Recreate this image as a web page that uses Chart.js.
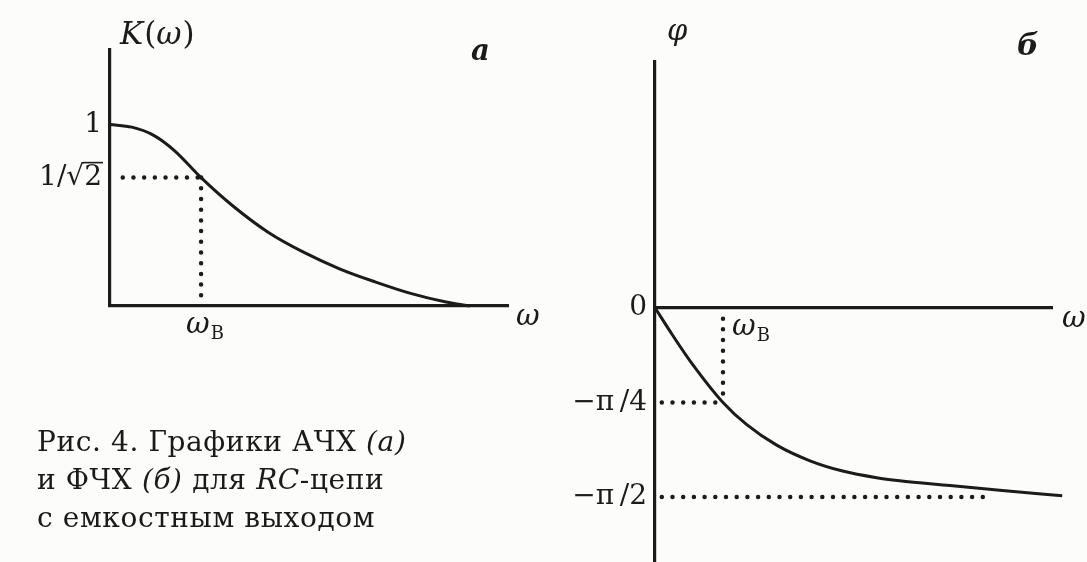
<!DOCTYPE html>
<html lang="ru">
<head>
<meta charset="utf-8">
<title>АЧХ и ФЧХ RC-цепи</title>
<script src="https://cdn.jsdelivr.net/npm/chart.js@4.4.1/dist/chart.umd.min.js"></script>
<style>
  html, body { margin: 0; padding: 0; background: #fcfcfb; }
  body { width: 1087px; height: 562px; position: relative; overflow: hidden; }
  .panel { position: absolute; top: 0; height: 562px; }
  #panelA { left: 0; width: 560px; }
  #panelB { left: 560px; width: 527px; }
  .caption {
    position: absolute; left: 37px; top: 423px;
    font-family: "DejaVu Serif", serif; font-size: 28px; line-height: 38px;
    letter-spacing: 0.6px; color: #1a1a1a; white-space: nowrap;
  }
  .caption i { font-style: italic; }
</style>
</head>
<body>
<div class="panel" id="panelA"><canvas id="grafikA"></canvas></div>
<div class="panel" id="panelB"><canvas id="grafikB"></canvas></div>
<div class="caption">Рис. 4. Графики АЧХ <i>(а)</i><br>и ФЧХ <i>(б)</i> для <i>RC</i>-цепи<br>с емкостным выходом</div>

<script>
// АЧХ: частота в долях ω_в, коэффициент передачи K(ω)
const kOmega = [0, 0.24, 0.48, 0.71, 1.0, 1.34, 1.74, 2.13, 2.52, 2.91, 3.31, 3.69, 3.95];
const kValue = [1.0, 0.985, 0.94, 0.855, 0.7071, 0.555, 0.405, 0.295, 0.205, 0.133, 0.068, 0.022, 0];

// ФЧХ: частота в долях ω_в, фаза φ (рад)
const phiOmega = [0, 0.25, 0.515, 1.0, 1.35, 1.79, 2.28, 2.76, 3.26, 3.6, 4.34, 5.07, 5.99];
const phiValue = [0, -0.22, -0.44, -0.7854, -0.97, -1.14, -1.27, -1.355, -1.41, -1.435, -1.475, -1.515, -1.56];

// деления осей
const kTicks = [1, 0.7071];
const kTickLabels = ['1', '1/\u221A2'];
const phiTicks = [0, -0.7854, -1.5708];
const phiTickLabels = ['0', '\u2212\u03C0\u2009/4', '\u2212\u03C0\u2009/2'];

// пунктирные выноски к точке ω_в и к асимптоте
const guideA_h = [[0.14, 0.7071], [1, 0.7071]];
const guideA_v = [[1, 0.7071], [1, 0.03]];
const guideB_v = [[1, -0.09], [1, -0.7854]];
const guideB_h = [[0.1, -0.7854], [1, -0.7854]];
const guideB_asym = [[0.1, -1.5708], [4.93, -1.5708]];

const INK = '#1b1b1b';
const SERIF = '"DejaVu Serif", serif';

const toXY = (xs, ys) => xs.map((x, i) => ({ x: x, y: ys[i] }));
const pairs = (arr) => arr.map(p => ({ x: p[0], y: p[1] }));

const curveStyle = {
    borderColor: INK, borderWidth: 3, pointRadius: 0,
    cubicInterpolationMode: 'monotone', fill: false, clip: false
};
const dotStyle = {
    borderColor: INK, borderWidth: 4.5, borderDash: [0, 10.7], borderCapStyle: 'round',
    pointRadius: 0, fill: false, tension: 0, clip: false
};

// текст из нескольких кусков разными шрифтами в одну строку
function drawRuns(ctx, x, y, runs) {
    ctx.save();
    ctx.fillStyle = INK;
    ctx.textAlign = 'left';
    ctx.textBaseline = 'alphabetic';
    let cx = x;
    runs.forEach(r => {
        ctx.font = r.font;
        ctx.fillText(r.text, cx, y + (r.dy || 0));
        cx += ctx.measureText(r.text).width + (r.gap || 0);
    });
    ctx.restore();
}

function omegaB(ctx, x, y) {
    drawRuns(ctx, x, y, [
        { text: '\u03C9', font: 'italic 29px ' + SERIF, gap: 1 },
        { text: 'В', font: '18px ' + SERIF, dy: 6 }
    ]);
}

function axisOpts(extra) {
    return Object.assign({
        type: 'linear',
        grid: { display: false, drawTicks: false },
        border: { display: true, color: INK, width: 3.2 },
        ticks: { display: false }
    }, extra);
}

const yTickFont = { family: SERIF, size: 28 };

// подписи графика «а»
const labelsA = {
    id: 'labelsA',
    afterDraw(chart) {
        const { ctx, chartArea: a, scales } = chart;
        drawRuns(ctx, a.left + 10, a.top - 6, [
            { text: 'K', font: 'italic 31px ' + SERIF, gap: 1 },
            { text: '(', font: '31px ' + SERIF },
            { text: '\u03C9', font: 'italic 31px ' + SERIF, gap: 1 },
            { text: ')', font: '31px ' + SERIF }
        ]);
        drawRuns(ctx, a.right - 37, a.top + 10, [{ text: 'а', font: 'italic bold 29px ' + SERIF }]);
        drawRuns(ctx, a.right + 8, a.bottom + 19, [{ text: '\u03C9', font: 'italic 29px ' + SERIF }]);
        omegaB(ctx, scales.x.getPixelForValue(1) - 15, a.bottom + 27);

        // черта над двойкой у 1/√2
        const y = scales.y;
        ctx.save();
        ctx.font = '28px ' + SERIF;
        const right = y.right - 8;
        const w2 = ctx.measureText('2').width;
        const py = y.getPixelForValue(kTicks[1]) - 15;
        ctx.strokeStyle = INK;
        ctx.lineWidth = 1.6;
        ctx.beginPath();
        ctx.moveTo(right - w2 - 1, py);
        ctx.lineTo(right + 1, py);
        ctx.stroke();
        ctx.restore();
    }
};

// подписи графика «б»
const labelsB = {
    id: 'labelsB',
    afterDraw(chart) {
        const { ctx, chartArea: a, scales } = chart;
        const y0 = scales.y.getPixelForValue(0);
        drawRuns(ctx, a.left + 12, a.top - 22, [{ text: '\u03C6', font: 'italic 29px ' + SERIF }]);
        drawRuns(ctx, a.right - 35, a.top - 7, [{ text: 'б', font: 'italic bold 30px ' + SERIF }]);
        drawRuns(ctx, a.right + 10, y0 + 19, [{ text: '\u03C9', font: 'italic 29px ' + SERIF }]);
        omegaB(ctx, scales.x.getPixelForValue(1) + 9, y0 + 27);
    }
};

document.addEventListener('DOMContentLoaded', () => {

    // --- а: амплитудно-частотная характеристика ---
    new Chart(document.getElementById('grafikA'), {
        type: 'line',
        data: {
            datasets: [
                Object.assign({ data: toXY(kOmega, kValue) }, curveStyle),
                Object.assign({ data: pairs(guideA_h) }, dotStyle),
                Object.assign({ data: pairs(guideA_v) }, dotStyle)
            ]
        },
        options: {
            responsive: true,
            maintainAspectRatio: false,
            animation: false,
            events: [],
            layout: { padding: { top: 50, right: 52, left: 0, bottom: 0 } },
            plugins: { legend: { display: false }, tooltip: { enabled: false } },
            scales: {
                x: axisOpts({ min: 0, max: 4.37, afterFit: s => { s.height = 256; } }),
                y: axisOpts({
                    min: 0, max: 1.41,
                    ticks: {
                        display: true, padding: 8, autoSkip: false, color: INK, font: yTickFont,
                        callback: (v) => kTickLabels[kTicks.indexOf(v)]
                    },
                    afterBuildTicks: s => { s.ticks = kTicks.map(v => ({ value: v })); },
                    afterFit: s => { s.width = 110; s.paddingTop = 0; s.paddingBottom = 0; }
                })
            }
        },
        plugins: [labelsA]
    });

    // --- б: фазо-частотная характеристика ---
    new Chart(document.getElementById('grafikB'), {
        type: 'line',
        data: {
            datasets: [
                Object.assign({ data: toXY(phiOmega, phiValue) }, curveStyle),
                Object.assign({ data: pairs(guideB_v) }, dotStyle),
                Object.assign({ data: pairs(guideB_h) }, dotStyle),
                Object.assign({ data: pairs(guideB_asym) }, dotStyle)
            ]
        },
        options: {
            responsive: true,
            maintainAspectRatio: false,
            animation: false,
            events: [],
            layout: { padding: { top: 62, right: 35, left: 0, bottom: 0 } },
            plugins: { legend: { display: false }, tooltip: { enabled: false } },
            scales: {
                x: axisOpts({ min: 0, max: 5.84, position: { y: 0 }, afterFit: s => { s.height = 0; } }),
                y: axisOpts({
                    min: -2.11, max: 2.04,
                    ticks: {
                        display: true, padding: 8, autoSkip: false, color: INK, font: yTickFont,
                        callback: (v) => phiTickLabels[phiTicks.indexOf(v)]
                    },
                    afterBuildTicks: s => { s.ticks = phiTicks.map(v => ({ value: v })); },
                    afterFit: s => { s.width = 95; s.paddingTop = 0; s.paddingBottom = 0; }
                })
            }
        },
        plugins: [labelsB]
    });
});
</script>
</body>
</html>
